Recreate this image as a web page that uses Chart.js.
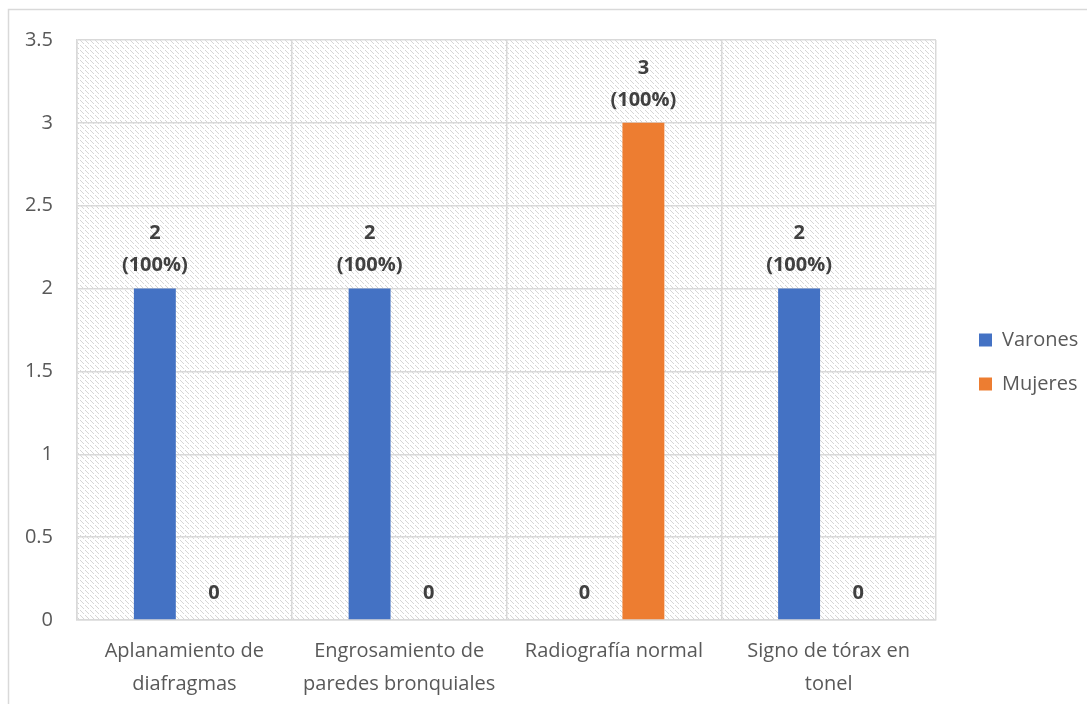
<!DOCTYPE html>
<html>
<head>
<meta charset="utf-8">
<script src="https://cdn.jsdelivr.net/npm/chart.js@4.4.0/dist/chart.umd.min.js"></script>
<style>
  html, body { margin: 0; padding: 0; background: #fff; }
  #wrap { width: 1087px; height: 704px; position: relative; }
</style>
</head>
<body>
<div id="wrap"><canvas id="chart" width="1087" height="704"></canvas></div>
<script>
const categories = [
  ["Aplanamiento de", "diafragmas"],
  ["Engrosamiento de", "paredes bronquiales"],
  ["Radiografía normal"],
  ["Signo de tórax en", "tonel"]
];
const varones = [2, 2, 0, 2];
const mujeres = [0, 0, 3, 0];
const varonesPct = ["100%", "100%", "", "100%"];
const mujeresPct = ["", "", "100%", ""];

const FONT = "Open Sans";

// diagonal hatch used by the plot background
function makeHatch() {
  const c = document.createElement("canvas");
  c.width = 5;
  c.height = 5;
  const g = c.getContext("2d");
  g.fillStyle = "#fff";
  g.fillRect(0, 0, 5, 5);
  g.fillStyle = "#d6d6d6";
  for (let i = 0; i < 4; i++) {
    g.fillRect(i, i, 1, 1);
  }
  return g.createPattern(c, "repeat");
}

const hatchBg = {
  id: "hatchBg",
  afterInit(chart) {
    // fixed legend width so the plot stops at the same x as the reference
    const lg = chart.legend;
    const fit = lg.fit;
    lg.fit = function () {
      fit.call(this);
      this.width = 151;
    };
  },
  beforeDraw(chart) {
    const { ctx, chartArea: a } = chart;
    chart.legend.left = a.right + 19;
    chart.legend.top = 20;
    ctx.save();
    ctx.strokeStyle = "#d9d9d9";
    ctx.lineWidth = 1.5;
    ctx.strokeRect(8.5, 9.5, 1200, 1200);
    ctx.fillStyle = makeHatch();
    ctx.fillRect(a.left, a.top, a.right - a.left, a.bottom - a.top);
    ctx.restore();
  },
};

// value labels above each bar, e.g. "2" then "(100%)"
const barLabels = {
  id: "barLabels",
  afterDatasetsDraw(chart) {
    const { ctx } = chart;
    const pcts = [varonesPct, mujeresPct];
    ctx.save();
    ctx.font = "bold 20px '" + FONT + "'";
    ctx.fillStyle = "#404040";
    ctx.textAlign = "center";
    ctx.textBaseline = "middle";
    chart.data.datasets.forEach((ds, di) => {
      chart.getDatasetMeta(di).data.forEach((bar, i) => {
        const v = ds.data[i];
        const p = pcts[di][i];
        if (p) {
          ctx.fillText(String(v), bar.x, bar.y - 55);
          ctx.fillText("(" + p + ")", bar.x, bar.y - 23);
        } else {
          ctx.fillText(String(v), bar.x, bar.y - 27);
        }
      });
    });
    ctx.restore();
  },
};

const ctx = document.getElementById("chart").getContext("2d");
new Chart(ctx, {
  type: "bar",
  data: {
    labels: categories,
    datasets: [
      { label: "Varones", data: varones, backgroundColor: "#4472c4" },
      { label: "Mujeres", data: mujeres, backgroundColor: "#ed7d31" },
    ],
  },
  options: {
    responsive: false,
    animation: false,
    layout: { padding: { top: 40, right: 0, left: 0, bottom: 0 } },
    datasets: { bar: { categoryPercentage: 0.55, barPercentage: 0.71 } },
    scales: {
      x: {
        grid: { color: "#d9d9d9", lineWidth: 1.5, offset: true, drawTicks: false },
        border: { color: "#d9d9d9", width: 1.5 },
        ticks: { color: "#595959", font: { family: FONT, size: 20, lineHeight: 1.65 }, padding: 15 },
        afterFit(s) { s.height = 84; },
      },
      y: {
        min: 0,
        max: 3.5,
        ticks: {
          stepSize: 0.5,
          color: "#595959",
          font: { family: FONT, size: 20 },
          padding: 24,
          callback: (v) => String(v),
        },
        grid: { color: "#d9d9d9", lineWidth: 1.5, drawTicks: false },
        border: { color: "#d9d9d9", width: 1.5 },
        afterFit(s) { s.width = 77; },
      },
    },
    plugins: {
      legend: {
        position: "right",
        labels: {
          color: "#595959",
          font: { family: FONT, size: 20 },
          boxWidth: 13,
          boxHeight: 13,
          padding: 24,
        },
      },
      tooltip: { enabled: false },
    },
  },
  plugins: [hatchBg, barLabels],
});
</script>
</body>
</html>
